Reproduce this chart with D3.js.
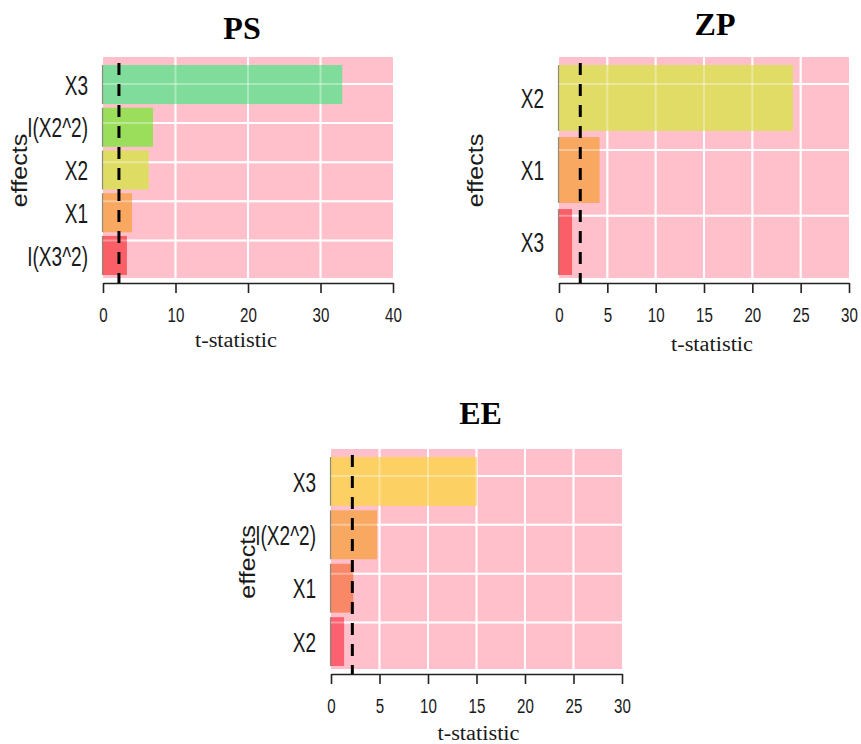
<!DOCTYPE html>
<html>
<head>
<meta charset="utf-8">
<script src="https://cdn.jsdelivr.net/npm/d3@7"></script>
<style>
  html, body { margin: 0; padding: 0; background: #ffffff; }
  svg { display: block; }
</style>
</head>
<body>
<div id="chart"></div>
<script>
// ---------------- data ----------------
const psEffects = ["X3", "I(X2^2)", "X2", "X1", "I(X3^2)"];
const psT       = [33.0, 6.9, 6.3, 4.0, 3.3];
const psTicks   = [0, 10, 20, 30, 40];

const zpEffects = ["X2", "X1", "X3"];
const zpT       = [24.2, 4.2, 1.35];
const zpTicks   = [0, 5, 10, 15, 20, 25, 30];

const eeEffects = ["X3", "I(X2^2)", "X1", "X2"];
const eeT       = [15.05, 4.75, 2.3, 1.35];
const eeTicks   = [0, 5, 10, 15, 20, 25, 30];

const criticalT = 2.2;

// ---------------- styles ----------------
const psColors = ["#80dc9a", "#9ade5c", "#dfdc63", "#f9a862", "#fa5f68"];
const zpColors = ["#e1dc66", "#f9a862", "#fa5f68"];
const eeColors = ["#fcd063", "#f9a862", "#f98866", "#fb6171"];
const panelBg = "#ffc0cb";

const W = 861, H = 744;
const svg = d3.select("#chart").append("svg")
  .attr("width", W).attr("height", H)
  .attr("viewBox", `0 0 ${W} ${H}`);

const panels = [
  { title: "PS", effects: psEffects, values: psT, colors: psColors, ticks: psTicks,
    x0: 103, x1: 393, top: 65, bottom: 275, titleDx: -6, titleY: 39, xlabDx: -12, xlabY: 347 },
  { title: "ZP", effects: zpEffects, values: zpT, colors: zpColors, ticks: zpTicks,
    x0: 559, x1: 849, top: 65, bottom: 275, titleDx: 11, titleY: 35, xlabDx: 8, xlabY: 351 },
  { title: "EE", effects: eeEffects, values: eeT, colors: eeColors, ticks: eeTicks,
    x0: 331, x1: 622, top: 457, bottom: 666, titleDx: 4, titleY: 424, xlabDx: 2, xlabY: 740 }
];

const sansFont = "'Liberation Sans', Arial, Helvetica, sans-serif";
const serifFont = "'Liberation Serif', 'Times New Roman', serif";

panels.forEach((p, pi) => {
  const g = svg.append("g");
  const tickMin = p.ticks[0], tickMax = p.ticks[p.ticks.length - 1];
  const x = d3.scaleLinear().domain([tickMin, tickMax]).range([p.x0, p.x1]);
  const y = d3.scaleBand().domain(p.effects).range([p.top, p.bottom])
    .paddingInner(0.085).paddingOuter(0);
  const bw = y.bandwidth();

  const bgTop = p.top - 8, bgBottom = p.bottom + 3;
  const axisY = p.bottom + 8;

  // panel background
  g.append("rect")
    .attr("x", x(tickMin)).attr("y", bgTop)
    .attr("width", x(tickMax) - x(tickMin)).attr("height", bgBottom - bgTop)
    .attr("fill", panelBg);

  const innerTicks = p.ticks.slice(1, -1);
  const hLines = p.effects.map((d, i) => p.top + 19 + i * bw);

  const drawGrid = (sel, opacity) => {
    sel.selectAll("line.v").data(innerTicks).join("line")
      .attr("class", "v")
      .attr("x1", d => x(d)).attr("x2", d => x(d))
      .attr("y1", bgTop).attr("y2", bgBottom)
      .attr("stroke", "#ffffff").attr("stroke-width", 2).attr("stroke-opacity", opacity);
    sel.selectAll("line.h").data(hLines).join("line")
      .attr("class", "h")
      .attr("x1", x(tickMin)).attr("x2", x(tickMax))
      .attr("y1", d => d).attr("y2", d => d)
      .attr("stroke", "#ffffff").attr("stroke-width", 2).attr("stroke-opacity", opacity);
  };
  drawGrid(g.append("g"), 1);

  // bars
  g.append("g").selectAll("rect").data(p.effects).join("rect")
    .attr("x", x(0))
    .attr("y", d => y(d))
    .attr("width", (d, i) => x(p.values[i]) - x(0))
    .attr("height", bw)
    .attr("fill", (d, i) => p.colors[i]);

  // thin left edges of bars
  g.append("g").selectAll("line").data(p.effects).join("line")
    .attr("x1", x(0) - 0.5).attr("x2", x(0) - 0.5)
    .attr("y1", d => y(d)).attr("y2", d => y(d) + bw)
    .attr("stroke", "#5a5a4a").attr("stroke-width", 1.2).attr("stroke-opacity", 0.7);

  // grid showing through bars (lighter)
  drawGrid(g.append("g"), 0.35);

  // x axis
  const axis = d3.axisBottom(x).tickValues(p.ticks).tickSize(10).tickSizeOuter(0).tickPadding(14)
    .tickFormat(d3.format("d"));
  const ax = g.append("g").attr("transform", `translate(0,${axisY})`).call(axis);
  ax.select(".domain").attr("stroke", "#222").attr("stroke-width", 1.6);
  ax.selectAll(".tick line").attr("stroke", "#222").attr("stroke-width", 1.6);
  ax.selectAll(".tick text")
    .attr("fill", "#1a1a1a")
    .attr("font-family", sansFont)
    .attr("font-size", 21)
    .attr("transform", "scale(0.72,1)");

  // critical t dashed line
  g.append("line")
    .attr("x1", x(criticalT)).attr("x2", x(criticalT))
    .attr("y1", p.top - 2).attr("y2", axisY)
    .attr("stroke", "#000").attr("stroke-width", 3)
    .attr("stroke-dasharray", "12,9");

  // y category labels
  g.append("g").selectAll("text").data(p.effects).join("text")
    .attr("transform", d => `translate(${x(0) - 15},${y(d) + bw / 2}) scale(0.68,1)`)
    .attr("text-anchor", "end")
    .attr("dy", "0.36em")
    .attr("font-family", sansFont)
    .attr("font-size", 28)
    .attr("fill", "#1a1a1a")
    .text(d => d);

  // y axis title
  const cy = (bgTop + bgBottom) / 2 + 3;
  g.append("text")
    .attr("transform", `translate(${x(0) - 76},${cy}) rotate(-90) scale(1.14,1)`)
    .attr("text-anchor", "middle")
    .attr("font-family", sansFont)
    .attr("font-size", 22)
    .attr("fill", "#1a1a1a")
    .text("effects");

  // x axis title
  const cx = (x(tickMin) + x(tickMax)) / 2;
  g.append("text")
    .attr("x", cx + p.xlabDx).attr("y", p.xlabY)
    .attr("text-anchor", "middle")
    .attr("font-family", serifFont)
    .attr("font-size", 20)
    .attr("textLength", 82)
    .attr("lengthAdjust", "spacingAndGlyphs")
    .attr("fill", "#1a1a1a")
    .text("t-statistic");

  // panel title
  g.append("text")
    .attr("x", cx + p.titleDx).attr("y", p.titleY)
    .attr("text-anchor", "middle")
    .attr("font-family", serifFont)
    .attr("font-weight", "bold")
    .attr("font-size", 32)
    .attr("fill", "#000")
    .text(p.title);
});
</script>
</body>
</html>
